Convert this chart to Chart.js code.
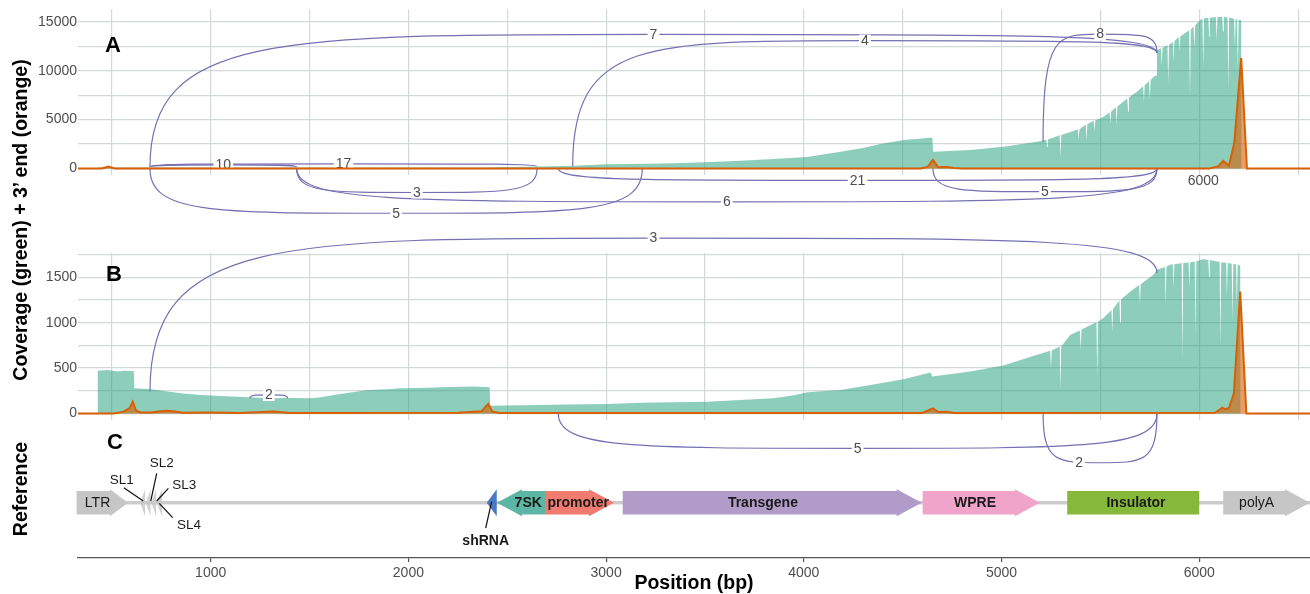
<!DOCTYPE html>
<html>
<head>
<meta charset="utf-8">
<title>Coverage + 3' end</title>
<script src="https://cdn.jsdelivr.net/npm/chart.js@4.4.1/dist/chart.umd.min.js"></script>
<style>
  html, body { margin: 0; padding: 0; background: #fff; }
  body { width: 1310px; height: 594px; position: relative; overflow: hidden;
         font-family: "Liberation Sans", Arial, Helvetica, sans-serif; }
  canvas { position: absolute; left: 0; }
  .title { position: absolute; font-weight: bold; color: #000; white-space: nowrap;
           text-align: center; font-size: 19.5px; line-height: 20px; height: 20px; }
  .tag { position: absolute; font-weight: bold; font-size: 22px; line-height: 22px;
         color: #000; width: 30px; text-align: center; }
</style>
</head>
<body>
<canvas id="chartC" width="1310" height="174" style="top:420px"></canvas>
<canvas id="chartA" width="1310" height="230" style="top:0px"></canvas>
<canvas id="chartB" width="1310" height="250" style="top:230px"></canvas>

<div class="title" style="left:-180px;top:210px;width:400px;transform:rotate(-90deg)">Coverage (green) + 3’ end (orange)</div>
<div class="title" style="left:-80px;top:479px;width:200px;transform:rotate(-90deg)">Reference</div>
<div class="title" style="left:594px;top:572px;width:200px">Position (bp)</div>
<div class="tag" style="left:98px;top:34px">A</div>
<div class="tag" style="left:99px;top:263px">B</div>
<div class="tag" style="left:100px;top:431px">C</div>

<script>
// ---- axes ----
const xMin = 329, xMax = 6560;
const gridX = [500, 1000, 1500, 2000, 2500, 3000, 3500, 4000, 4500, 5000, 5500, 6000, 6500];
const tickX = [1000, 2000, 3000, 4000, 5000, 6000];
const gridYA = [0, 2500, 5000, 7500, 10000, 12500, 15000];
const labelYA = [0, 5000, 10000, 15000];
const rangeYA = [-664, 16266];
const gridYB = [0, 250, 500, 750, 1000, 1250, 1500, 1750];
const labelYB = [0, 500, 1000, 1500];
const rangeYB = [-72, 1768];

// ---- panel A: coverage (green) and 3' ends (orange) ----
const posA = [329, 430, 431, 1440, 2400, 2651, 2800, 3005, 3200, 3342, 3500, 3680,
  3848, 4017, 4185, 4300, 4387, 4505, 4640, 4650, 4654, 4842, 5011, 5179,
  5226, 5230, 5234, 5294, 5298, 5302, 5348, 5386, 5390, 5394, 5426, 5430, 5434,
  5466, 5470, 5474, 5516, 5546, 5550, 5554, 5578, 5582, 5586, 5636, 5640, 5644,
  5685, 5716, 5720, 5724, 5746, 5750, 5754, 5769, 5782, 5786, 5806, 5810, 5814,
  5839, 5843, 5847, 5866, 5870, 5874, 5896, 5900, 5904, 5938, 5949, 5953, 5957,
  5971, 5975, 5979, 6005, 6016, 6020, 6024, 6046, 6050, 6054, 6084, 6088, 6092,
  6116, 6120, 6124, 6143, 6147, 6151, 6176, 6180, 6184, 6191, 6195, 6199,
  6207, 6212, 6213, 6560];
const covA = [0, 0, 100, 100, 110, 200, 255, 430, 480, 530, 650, 800,
  970, 1175, 1720, 2100, 2500, 2910, 3150, 3150, 1720, 1890, 2230, 2740,
  2950, 2200, 2970, 3400, 1200, 3420, 3730, 3980, 3000, 4020, 4500, 2900, 4560,
  4880, 3800, 4920, 5290, 5750, 4600, 5800, 6250, 4500, 6330, 7150, 5800, 7250,
  7850, 8400, 6800, 8500, 8950, 7000, 9050, 9380, 9500, 12100, 12300, 10500, 12350,
  12600, 8700, 12650, 12950, 11000, 13000, 13450, 12000, 13500, 13980, 14100, 7340, 14180,
  14550, 12300, 14650, 15170, 15300, 10400, 15350, 15400, 13500, 15400, 15500, 13100, 15500,
  15500, 14000, 15500, 15450, 8000, 15450, 15300, 12500, 15300, 15200, 10000, 15200,
  15170, 15100, 0, 0];
const posEndA = [329, 450, 482, 515, 4590, 4625, 4653, 4680, 4720, 4760, 4800, 6050, 6095, 6121,
  6150, 6177, 6212, 6241, 6560];
const endA = [0, 0, 200, 0, 0, 150, 870, 130, 150, 60, 0, 0, 220, 770,
  290, 2600, 11290, 0, 0];

// ---- panel B ----
const posB = [329, 428, 429, 480, 530, 560, 611, 614, 700, 783, 850, 950, 1100, 1200, 1288,
  1400, 1506, 1560, 1622, 1700, 1794, 1900, 1960, 2100, 2163, 2330, 2411, 2414, 2668, 2800,
  3007, 3174, 3350, 3513, 3700, 3846, 3950, 4018, 4185, 4337, 4504, 4640, 4650, 4842, 5009,
  5181, 5246, 5250, 5254, 5294, 5298, 5302, 5348, 5396, 5400, 5404, 5480, 5484, 5488,
  5515, 5556, 5560, 5564, 5596, 5600, 5604, 5651, 5696, 5700, 5704, 5768, 5786,
  5826, 5830, 5834, 5853, 5866, 5870, 5874, 5911, 5915, 5919, 5946, 5950, 5954,
  5977, 5981, 5985, 6020, 6046, 6050, 6054, 6103, 6107, 6111, 6136, 6140, 6144,
  6164, 6168, 6172, 6186, 6190, 6194, 6207, 6208, 6560];
const covB = [0, 0, 470, 478, 462, 472, 468, 278, 268, 241, 222, 204, 188, 178, 168,
  170, 168, 180, 204, 228, 259, 268, 278, 284, 289, 296, 290, 86, 94, 98,
  105, 119, 124, 130, 150, 168, 200, 234, 259, 315, 377, 450, 406, 461, 528,
  646, 690, 500, 695, 737, 259, 740, 866, 915, 700, 925, 1005, 406, 1010,
  1051, 1140, 900, 1150, 1245, 1000, 1255, 1344, 1415, 1200, 1425, 1529, 1584,
  1615, 1200, 1620, 1639, 1643, 1400, 1645, 1655, 590, 1658, 1663, 1400, 1665,
  1675, 848, 1676, 1700, 1692, 1500, 1690, 1668, 737, 1665, 1660, 1300, 1658,
  1650, 1032, 1650, 1642, 1200, 1640, 1628, 0, 0];
const posEndB = [329, 510, 560, 590, 606, 622, 645, 700, 745, 775, 810, 860, 1000, 1150, 1318,
  1400, 2250, 2370, 2404, 2425, 2460, 4600, 4652, 4680, 4720, 4760, 6080, 6117, 6133, 6150,
  6175, 6207, 6238, 6560];
const endB = [0, 0, 20, 60, 130, 35, 10, 10, 25, 30, 25, 8, 10, 5, 22,
  5, 8, 25, 105, 20, 5, 5, 57, 15, 20, 5, 8, 64, 44, 60,
  223, 1344, 0, 0];

// ---- junction arcs (start, end, height at ends, apex height, read count) ----
const juncStartA = [693, 2831, 5210, 693, 693, 1435, 693, 2758, 1435, 4653];
const juncEndA   = [5786, 5786, 5786, 1435, 2651, 2651, 3183, 5786, 5786, 5786];
const juncY0A    = [153, 255, 2738, 153, 153, 0, 0, 0, 0, 0];
const juncY1A    = [11800, 11800, 11800, 153, 200, 0, 0, 0, 0, 0];
const juncApexA  = [13712, 13079, 13743, 380, 480, -2452, -4577, -1206, -3402, -2370];
const juncCountA = ['7', '4', '8', '10', '17', '3', '5', '21', '6', '5'];

const juncStartB = [693, 1199, 2758, 5210];
const juncEndB   = [5786, 1389, 5786, 5786];
const juncY0B    = [241, 168, 0, 0];
const juncY1B    = [1547, 168, 0, 0];
const juncApexB  = [1932, 204, -384, -543];
const juncCountB = ['3', '2', '5', '2'];
const juncLabelXB = [null, null, null, 5393];

// ---- reference track ----
const featName  = ['LTR', 'shRNA', '7SK', 'promoter', 'Transgene', 'WPRE', 'Insulator', 'polyA'];
const featStart = [322, 2396, 2448, 2691, 3084, 4601, 5332, 6121];
const featEnd   = [582, 2447, 2691, 3040, 4596, 5194, 6000, 6560];
const featDir   = [1, -1, -1, 1, 1, 1, 0, 1];
const featColor = ['#c6c6c6', '#4a78c8', '#5cb6a3', '#f27b70', '#b09bc9', '#f1a4c9', '#86b83c', '#c6c6c6'];
const featLabelX = [428, null, 2606, 2859, 3793, 4866, 5680, 6290];
const featBold  = [false, true, true, true, true, true, true, false];

const slStart = [644, 672, 700, 727];
const slEnd   = [668, 696, 724, 754];

const calloutText  = ['SL1', 'SL2', 'SL3', 'SL4', 'shRNA'];
const calloutTextX = [550, 752, 866, 890, 2391];
const calloutTextY = [78, 94.7, 73, 33, 17.3];
const calloutX0 = [561, 727, 786, 808, 2391];
const calloutY0 = [70.3, 84.7, 69.7, 40.3, 30];
const calloutX1 = [659, 697, 727, 740, 2421];
const calloutY1 = [57, 57, 57, 54.7, 56.3];
const calloutBold = [false, false, false, false, true];

// ---- styles ----
const FONT = '"Liberation Sans", Arial, Helvetica, sans-serif';
const GRID = '#d3d9d9';
const GREEN = 'rgba(27, 158, 119, 0.5)';
const ORANGE = '#D95F02';
const ORANGE_FILL = 'rgba(217, 95, 2, 0.6)';
const ARC = '#7570B3';
const TRACK_Y = 55.3, BODY_H = 11.7, HEAD_H = 13.5, HEAD_LEN = 25;

Chart.defaults.font.family = FONT;
Chart.defaults.color = '#4d4d4d';

const pts = (xs, ys) => xs.map((x, i) => ({ x: x, y: ys[i] }));

function xGridAxis() {
  return {
    type: 'linear', min: xMin, max: xMax,
    afterFit: s => { s.height = 0; },
    afterBuildTicks: s => { s.ticks = gridX.map(v => ({ value: v })); },
    ticks: { display: false },
    grid: { color: GRID, lineWidth: 1.2, drawTicks: false },
    border: { display: false }
  };
}

function yAxis(range, gridVals, labelVals) {
  return {
    type: 'linear', min: range[0], max: range[1],
    afterFit: s => { s.width = 78; },
    afterBuildTicks: s => { s.ticks = gridVals.map(v => ({ value: v })); },
    ticks: {
      font: { size: 14 }, color: '#4d4d4d', padding: 1, autoSkip: false,
      callback: v => labelVals.includes(v) ? String(v) : ''
    },
    grid: { color: GRID, lineWidth: 1.2, drawTicks: false },
    border: { display: false }
  };
}

function arcPlugin(j) {
  return {
    id: 'sashimi',
    afterDatasetDraw(chart, args) {
      if (args.index !== 1) return;
      const ctx = chart.ctx, xs = chart.scales.x, ys = chart.scales.y;
      ctx.save();
      ctx.strokeStyle = ARC;
      ctx.lineWidth = 1.2;
      const mids = [];
      j.start.forEach((s, i) => {
        const x0 = xs.getPixelForValue(s), x1 = xs.getPixelForValue(j.end[i]);
        const xm = (x0 + x1) / 2;
        const y0 = ys.getPixelForValue(j.y0[i]), y1 = ys.getPixelForValue(j.y1[i]);
        const ya = ys.getPixelForValue(j.apex[i]);
        const k = 0.25;
        ctx.beginPath();
        ctx.moveTo(x0, y0);
        ctx.bezierCurveTo(x0, ya, x0 + k * (xm - x0), ya, xm, ya);
        ctx.bezierCurveTo(x1 - k * (x1 - xm), ya, x1, ya, x1, y1);
        ctx.stroke();
        const lx = (j.labelX && j.labelX[i] != null) ? xs.getPixelForValue(j.labelX[i]) : xm;
        mids.push([lx, ya, j.count[i]]);
      });
      ctx.font = '14px ' + FONT;
      ctx.textAlign = 'center';
      ctx.textBaseline = 'middle';
      mids.forEach(([lx, ly, t]) => {
        const w = ctx.measureText(t).width;
        ctx.fillStyle = '#ffffff';
        ctx.fillRect(lx - w / 2 - 2, ly - 6, w + 4, 12);
        ctx.fillStyle = '#4d4d4d';
        ctx.fillText(t, lx, ly + 0.5);
      });
      (j.extra || []).forEach(e => {
        ctx.fillStyle = '#4d4d4d';
        ctx.fillText(e.text, xs.getPixelForValue(e.x), ys.getPixelForValue(e.y));
      });
      ctx.restore();
    }
  };
}

function coverageChart(id, pos, cov, posEnd, end, range, gridVals, labelVals, padTop, padBottom, junc) {
  return new Chart(document.getElementById(id), {
    type: 'line',
    data: {
      datasets: [
        { data: pts(posEnd, end), fill: 'origin', backgroundColor: ORANGE_FILL,
          borderColor: ORANGE, borderWidth: 2, pointRadius: 0, tension: 0 },
        { data: pts(pos, cov), fill: 'origin', backgroundColor: GREEN,
          borderColor: 'rgba(0,0,0,0)', borderWidth: 0, pointRadius: 0, tension: 0 }
      ]
    },
    options: {
      responsive: false, animation: false, devicePixelRatio: 1, events: [],
      layout: { padding: { left: 0, right: 0, top: padTop, bottom: padBottom } },
      plugins: { legend: { display: false }, tooltip: { enabled: false } },
      scales: { x: xGridAxis(), y: yAxis(range, gridVals, labelVals) }
    },
    plugins: [arcPlugin(junc)]
  });
}

coverageChart('chartA', posA, covA, posEndA, endA, rangeYA, gridYA, labelYA, 9, 55, {
  start: juncStartA, end: juncEndA, y0: juncY0A, y1: juncY1A, apex: juncApexA, count: juncCountA,
  extra: [{ text: '6000', x: 6020, y: -1277 }]
});

coverageChart('chartB', posB, covB, posEndB, endB, rangeYB, gridYB, labelYB, 23, 60, {
  start: juncStartB, end: juncEndB, y0: juncY0B, y1: juncY1B, apex: juncApexB, count: juncCountB,
  labelX: juncLabelXB
});

// reference (gene) track
const trackPlugin = {
  id: 'track',
  afterDraw(chart) {
    const ctx = chart.ctx, xs = chart.scales.x, ys = chart.scales.y;
    const cy = ys.getPixelForValue(TRACK_Y);
    const bh = ys.getPixelForValue(0) - ys.getPixelForValue(BODY_H);
    const hh = ys.getPixelForValue(0) - ys.getPixelForValue(HEAD_H);
    ctx.save();
    // backbone
    ctx.fillStyle = '#cccccc';
    ctx.fillRect(xs.getPixelForValue(xMin), cy - 1.75, xs.getPixelForValue(xMax) - xs.getPixelForValue(xMin), 3.5);
    // stem loops
    ctx.fillStyle = 'rgba(200,200,200,0.85)';
    slStart.forEach((s, i) => {
      const a = xs.getPixelForValue(s), b = xs.getPixelForValue(slEnd[i]);
      ctx.beginPath();
      ctx.moveTo(a, cy);
      ctx.lineTo(b, cy - hh);
      ctx.lineTo(b, cy + hh);
      ctx.closePath();
      ctx.fill();
    });
    // features
    featStart.forEach((s, i) => {
      const a = xs.getPixelForValue(s), b = xs.getPixelForValue(featEnd[i]);
      const dir = featDir[i];
      const hl = Math.min(i === 0 ? 18 : HEAD_LEN, b - a);
      ctx.fillStyle = featColor[i];
      ctx.beginPath();
      if (dir === 1) {
        ctx.moveTo(a, cy - bh); ctx.lineTo(b - hl, cy - bh); ctx.lineTo(b - hl, cy - hh);
        ctx.lineTo(b, cy); ctx.lineTo(b - hl, cy + hh); ctx.lineTo(b - hl, cy + bh);
        ctx.lineTo(a, cy + bh);
      } else if (dir === -1) {
        ctx.moveTo(b, cy - bh); ctx.lineTo(a + hl, cy - bh); ctx.lineTo(a + hl, cy - hh);
        ctx.lineTo(a, cy); ctx.lineTo(a + hl, cy + hh); ctx.lineTo(a + hl, cy + bh);
        ctx.lineTo(b, cy + bh);
      } else {
        ctx.rect(a, cy - bh, b - a, 2 * bh);
      }
      ctx.closePath();
      ctx.fill();
    });
    ctx.textAlign = 'center';
    ctx.textBaseline = 'middle';
    ctx.fillStyle = '#1a1a1a';
    featName.forEach((n, i) => {
      if (featLabelX[i] == null) return;
      ctx.font = (featBold[i] ? 'bold ' : '') + '14px ' + FONT;
      ctx.fillText(n, xs.getPixelForValue(featLabelX[i]), cy + 0.5);
    });
    // callouts
    ctx.strokeStyle = '#111';
    ctx.lineWidth = 1.2;
    calloutText.forEach((t, i) => {
      ctx.beginPath();
      ctx.moveTo(xs.getPixelForValue(calloutX0[i]), ys.getPixelForValue(calloutY0[i]));
      ctx.lineTo(xs.getPixelForValue(calloutX1[i]), ys.getPixelForValue(calloutY1[i]));
      ctx.stroke();
      ctx.font = (calloutBold[i] ? 'bold 14px ' : '13.5px ') + FONT;
      ctx.fillText(t, xs.getPixelForValue(calloutTextX[i]), ys.getPixelForValue(calloutTextY[i]));
    });
    ctx.restore();
  }
};

new Chart(document.getElementById('chartC'), {
  type: 'scatter',
  data: { datasets: [] },
  options: {
    responsive: false, animation: false, devicePixelRatio: 1, events: [],
    layout: { padding: { left: 78, right: 0, top: 10, bottom: 0 } },
    plugins: { legend: { display: false }, tooltip: { enabled: false } },
    scales: {
      x: {
        type: 'linear', min: xMin, max: xMax, position: 'bottom',
        afterFit: s => { s.height = 36; },
        afterBuildTicks: s => { s.ticks = tickX.map(v => ({ value: v })); },
        ticks: { font: { size: 14 }, color: '#4d4d4d', padding: 3, maxRotation: 0, autoSkip: false,
                 callback: v => String(v) },
        grid: { display: true, drawOnChartArea: false, drawTicks: true, tickLength: 4, color: '#555', lineWidth: 1.2 },
        border: { display: true, color: '#555', width: 1.3 }
      },
      y: { type: 'linear', min: 0, max: 128, display: false }
    }
  },
  plugins: [trackPlugin]
});
</script>
</body>
</html>
